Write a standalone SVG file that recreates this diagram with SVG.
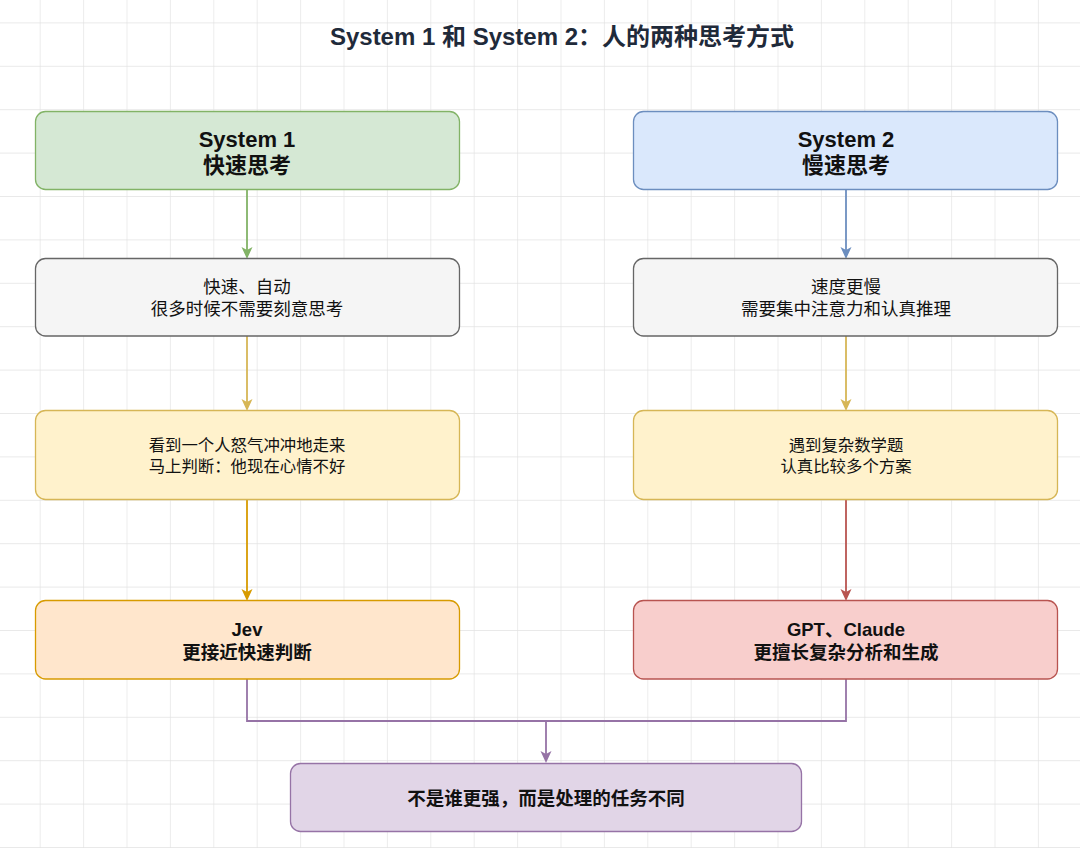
<svg xmlns="http://www.w3.org/2000/svg" width="1080" height="848" viewBox="0 0 1080 848">
  <style>
    text { font-family: "Liberation Sans", "Noto Sans CJK SC", sans-serif; fill: #111111; text-anchor: middle; }
    .title { font-size: 24px; font-weight: bold; fill: #1f2a3a; }
    .h1 { font-size: 22px; font-weight: bold; }
    .t2 { font-size: 17.5px; }
    .t3 { font-size: 16.4px; }
    .h4 { font-size: 18.5px; font-weight: bold; }
    .box { stroke-width: 1.3; }
    .edge { fill: none; stroke-width: 1.8; }
  </style>
  <defs>
    <pattern id="grid" patternUnits="userSpaceOnUse" x="39.7" y="22.4" width="43.4" height="43.4">
      <path d="M 0 0 L 43.4 0 M 0 0 L 0 43.4" fill="none" stroke="#e2e2e2" stroke-width="1.3"/>
    </pattern>
  </defs>
  <rect x="0" y="0" width="1080" height="848" fill="#ffffff"/>
  <rect x="0" y="0" width="1080" height="848" fill="url(#grid)"/>

  <g id="title">
    <text class="title" x="562" y="44.5">System 1 和 System 2：人的两种思考方式</text>
  </g>

  <g id="connectors">
    <line class="edge" x1="247" y1="190" x2="247" y2="250" stroke="#82b366"/>
    <path d="M247,259 L241.5,247 L247,250 L252.5,247 Z" fill="#82b366"/>
    <line class="edge" x1="846" y1="190" x2="846" y2="250" stroke="#6c8ebf"/>
    <path d="M846,259 L840.5,247 L846,250 L851.5,247 Z" fill="#6c8ebf"/>

    <line class="edge" x1="247" y1="336" x2="247" y2="402" stroke="#d6b656"/>
    <path d="M247,411 L241.5,399 L247,402 L252.5,399 Z" fill="#d6b656"/>
    <line class="edge" x1="846" y1="336" x2="846" y2="402" stroke="#d6b656"/>
    <path d="M846,411 L840.5,399 L846,402 L851.5,399 Z" fill="#d6b656"/>

    <line class="edge" x1="247" y1="500" x2="247" y2="592" stroke="#d79b00"/>
    <path d="M247,601 L241.5,589 L247,592 L252.5,589 Z" fill="#d79b00"/>
    <line class="edge" x1="846" y1="500" x2="846" y2="592" stroke="#b85450"/>
    <path d="M846,601 L840.5,589 L846,592 L851.5,589 Z" fill="#b85450"/>

    <polyline class="edge" points="247,679 247,721 846,721 846,679" stroke="#9673a6"/>
    <line class="edge" x1="546" y1="721" x2="546" y2="754" stroke="#9673a6"/>
    <path d="M546,763 L540.5,751 L546,754 L551.5,751 Z" fill="#9673a6"/>
  </g>

  <g id="system1">
    <rect class="box" x="35.5" y="111.5" width="424" height="78" rx="10" fill="#d5e8d4" stroke="#82b366"/>
    <text class="h1" x="247" y="146.5">System 1</text>
    <text class="h1" x="247" y="173">快速思考</text>
  </g>
  <g id="system2">
    <rect class="box" x="633.5" y="111.5" width="424" height="78" rx="10" fill="#dae8fc" stroke="#6c8ebf"/>
    <text class="h1" x="846" y="146.5">System 2</text>
    <text class="h1" x="846" y="173">慢速思考</text>
  </g>

  <g id="fast-auto">
    <rect class="box" x="35.5" y="258.5" width="424" height="77.5" rx="10" fill="#f5f5f5" stroke="#666666"/>
    <text class="t2" x="247" y="293.2">快速、自动</text>
    <text class="t2" x="247" y="314.8">很多时候不需要刻意思考</text>
  </g>
  <g id="slow-focus">
    <rect class="box" x="633.5" y="258.5" width="424" height="77.5" rx="10" fill="#f5f5f5" stroke="#666666"/>
    <text class="t2" x="846" y="293.2">速度更慢</text>
    <text class="t2" x="846" y="314.8">需要集中注意力和认真推理</text>
  </g>

  <g id="example1">
    <rect class="box" x="35.5" y="410.5" width="424" height="89" rx="10" fill="#fff2cc" stroke="#d6b656"/>
    <text class="t3" x="247" y="451">看到一个人怒气冲冲地走来</text>
    <text class="t3" x="247" y="471.5">马上判断：他现在心情不好</text>
  </g>
  <g id="example2">
    <rect class="box" x="633.5" y="410.5" width="424" height="89" rx="10" fill="#fff2cc" stroke="#d6b656"/>
    <text class="t3" x="846" y="451">遇到复杂数学题</text>
    <text class="t3" x="846" y="471.5">认真比较多个方案</text>
  </g>

  <g id="jev">
    <rect class="box" x="35.5" y="600.5" width="424" height="78.5" rx="10" fill="#ffe6cc" stroke="#d79b00"/>
    <text class="h4" x="247" y="636">Jev</text>
    <text class="h4" x="247" y="658.5">更接近快速判断</text>
  </g>
  <g id="gpt-claude">
    <rect class="box" x="633.5" y="600.5" width="424" height="78.5" rx="10" fill="#f8cecc" stroke="#b85450"/>
    <text class="h4" x="846" y="636">GPT、Claude</text>
    <text class="h4" x="846" y="658.5">更擅长复杂分析和生成</text>
  </g>

  <g id="conclusion">
    <rect class="box" x="290.5" y="763.5" width="511" height="68" rx="10" fill="#e1d5e7" stroke="#9673a6"/>
    <text class="h4" x="546" y="805">不是谁更强，而是处理的任务不同</text>
  </g>
</svg>
